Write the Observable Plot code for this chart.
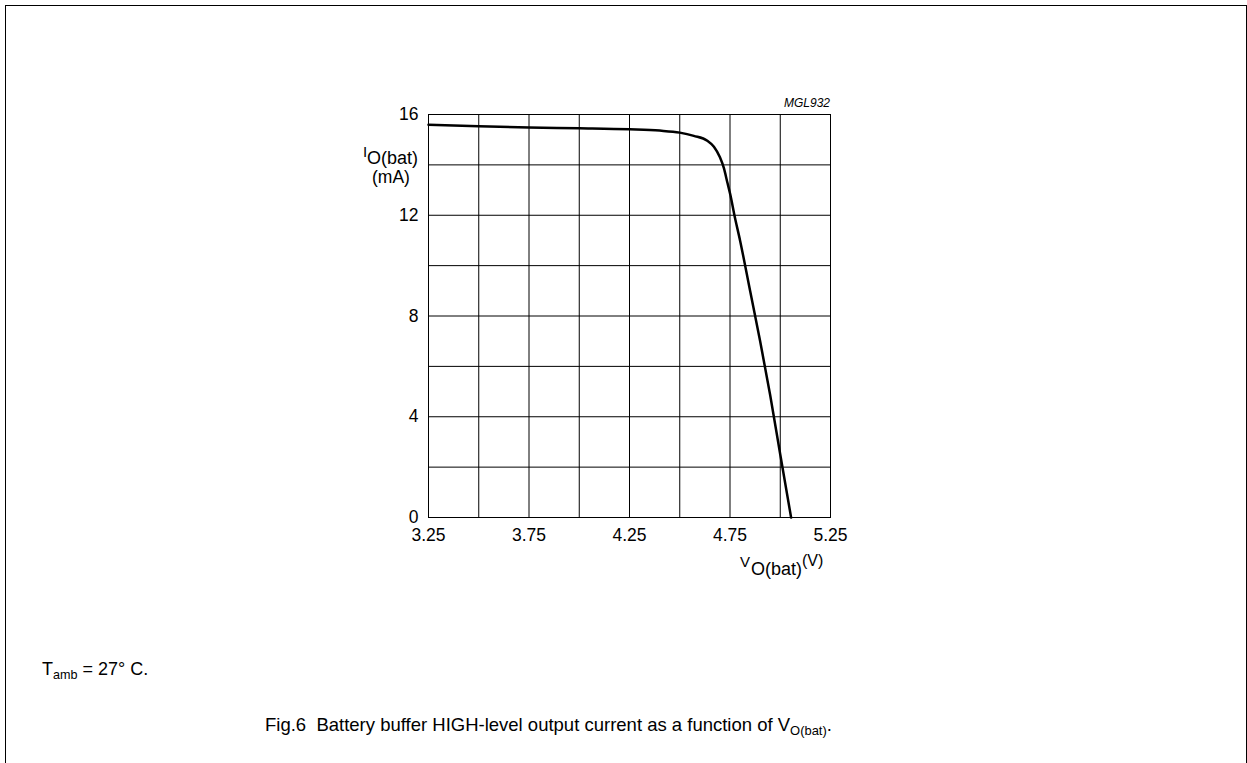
<!DOCTYPE html>
<html><head><meta charset="utf-8">
<script src="https://cdn.jsdelivr.net/npm/d3@7"></script>
<script src="https://cdn.jsdelivr.net/npm/@observablehq/plot@0.6"></script>
<style>
html,body{margin:0;padding:0;background:#fff;overflow:hidden}
#page{position:relative;width:1247px;height:763px;font-family:"Liberation Sans",Arial,sans-serif;color:#000;overflow:hidden}
#border{position:absolute;left:5px;top:5px;width:1240px;height:800px;border:1px solid #000;border-bottom:none}
#chart{position:absolute;left:0;top:0}
.t{position:absolute;white-space:nowrap;line-height:1;font-size:16px}
.t sub{font-size:0.7em;vertical-align:-0.3em;line-height:0}
</style></head><body>
<div id="page">
<div id="border"></div>
<div id="chart"></div>
<span class="t" style="right:417px;top:97px;font-size:12px;font-style:italic">MGL932</span>
<span class="t" style="left:363px;top:144px;font-size:15px">I</span>
<span class="t" style="left:367px;top:149px;font-size:18px">O(bat)</span>
<span class="t" style="left:372px;top:169px;font-size:17.5px">(mA)</span>
<span class="t" style="left:740px;top:554px;font-size:15px">V</span>
<span class="t" style="left:751px;top:560px;font-size:18px">O(bat)</span>
<span class="t" style="left:802px;top:553px;font-size:16px">(V)</span>
<span class="t" style="left:42px;top:660px;font-size:18px">T<sub>amb</sub> = 27° C.</span>
<span class="t" style="left:265px;top:716px;font-size:18.5px">Fig.6&nbsp; Battery buffer HIGH-level output current as a function of V<sub>O(bat)</sub>.</span>
</div>
<script>
// V_O(bat) in volts
const voltage = [3.25, 3.50, 3.75, 4.00, 4.25, 4.40, 4.50, 4.57, 4.637, 4.67, 4.70, 4.72, 4.736, 4.752, 4.772, 4.80, 4.85, 4.90, 4.95, 5.00, 5.054];
// I_O(bat) in mA
const current = [15.59, 15.53, 15.48, 15.45, 15.41, 15.36, 15.28, 15.15, 14.96, 14.72, 14.30, 13.86, 13.33, 12.80, 12.00, 11.00, 9.00, 7.00, 4.85, 2.50, 0.0];
const xTickLabels = [3.25, 3.75, 4.25, 4.75, 5.25];
const yTickLabels = [0, 4, 8, 12, 16];
const xGridLines = [3.25, 3.50, 3.75, 4.00, 4.25, 4.50, 4.75, 5.00, 5.25];
const yGridLines = [0, 2, 4, 6, 8, 10, 12, 14, 16];

const points = voltage.map((v, k) => ({v, i: current[k]}));

const chart = Plot.plot({
  width: 1247,
  height: 763,
  marginLeft: 428,
  marginRight: 417,
  marginTop: 114,
  marginBottom: 246,
  x: {domain: [3.25, 5.25]},
  y: {domain: [0, 16]},
  style: {fontFamily: '"Liberation Sans", Arial, sans-serif', fontSize: "17.5px", color: "#000", background: "transparent", overflow: "visible"},
  marks: [
    Plot.gridX(xGridLines, {stroke: "#000", strokeOpacity: 1, strokeWidth: 1}),
    Plot.gridY(yGridLines, {stroke: "#000", strokeOpacity: 1, strokeWidth: 1}),
    Plot.frame({stroke: "#000", strokeWidth: 1}),
    Plot.axisX(xTickLabels, {tickSize: 0, tickPadding: 11, label: null, tickFormat: d => d.toFixed(2)}),
    Plot.axisY(yTickLabels, {tickSize: 0, tickPadding: 10, label: null}),
    Plot.line(points, {x: "v", y: "i", curve: "monotone-x", stroke: "#000", strokeWidth: 2.5})
  ]
});
document.getElementById("chart").appendChild(chart);
</script>
</body></html>
